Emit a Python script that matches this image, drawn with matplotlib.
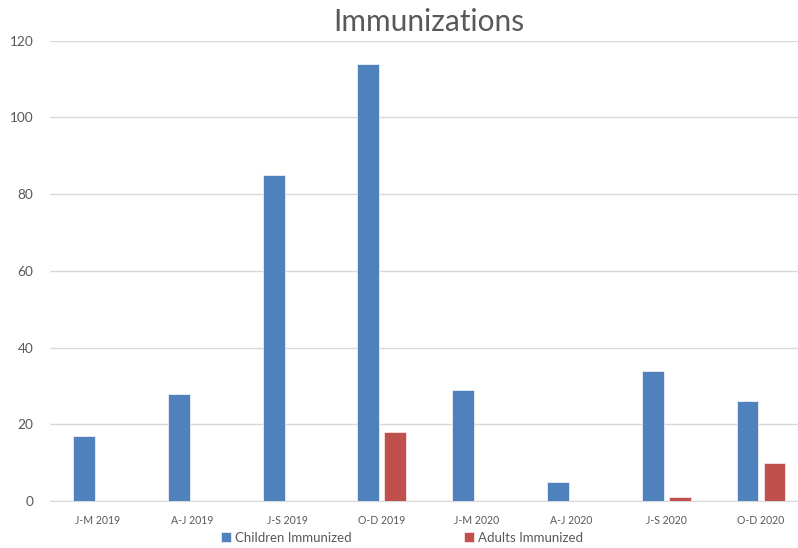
import matplotlib
matplotlib.use("Agg")
import matplotlib.pyplot as plt
import numpy as np

categories = ["J-M 2019", "A-J 2019", "J-S 2019", "O-D 2019",
              "J-M 2020", "A-J 2020", "J-S 2020", "O-D 2020"]
children = [17, 28, 85, 114, 29, 5, 34, 26]
adults = [0, 0, 0, 18, 0, 0, 1, 10]
yticks = [0, 20, 40, 60, 80, 100, 120]

plt.rcParams['font.family'] = ['Lato', 'DejaVu Sans']
txt = '#595959'

fig = plt.figure(figsize=(7.98, 5.48), dpi=100)
ax = fig.add_axes([50.1/798, 1-501/548, 758.3/798, (501-40.7)/548])

x = np.arange(len(categories))
w = 0.23
off = 0.142
ax.bar(x - off, children, width=w, color='#4F81BD', edgecolor='#E8EEF7', linewidth=0.6,
       label='Children Immunized', zorder=3)
ax.bar(x + off, adults, width=w, color='#C0504D', edgecolor='#F5E4E4', linewidth=0.6,
       label='Adults Immunized', zorder=3)

ax.set_xlim(-0.5, len(categories) - 0.5)
ax.set_ylim(0, 120)
ax.set_yticks(yticks)
ax.set_xticks(x)
ax.set_xticklabels(categories, fontsize=7.6, color=txt)
ax.tick_params(axis='y', labelsize=9.8, colors=txt, length=0, pad=12)
ax.tick_params(axis='x', length=0, pad=10, colors=txt)
ax.grid(axis='y', color='#D9D9D9', linewidth=1, zorder=0)
for s in ['top', 'right', 'left']:
    ax.spines[s].set_visible(False)
ax.spines['bottom'].set_color('#D9D9D9')

fig.text(429/798, 1-22/548, 'Immunizations', ha='center', va='center',
         fontsize=21.5, color=txt)

fig.legend(loc='center', bbox_to_anchor=(402/798, 1-538/548), ncol=2, frameon=False,
           fontsize=9.5, labelcolor=txt, handlelength=0.8, handleheight=0.8,
           handletextpad=0.3, columnspacing=8.5)

fig.savefig('out.png', dpi=100)
